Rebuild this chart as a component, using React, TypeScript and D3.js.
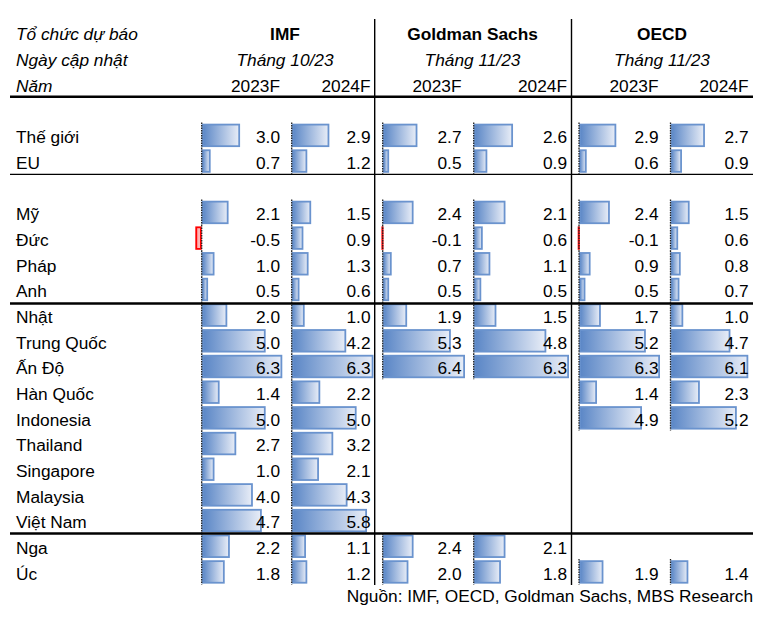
import React from "react";
import * as d3 from "d3";

const countries = ["Thế giới","EU","Mỹ","Đức","Pháp","Anh","Nhật","Trung Quốc","Ấn Độ","Hàn Quốc","Indonesia","Thailand","Singapore","Malaysia","Việt Nam","Nga","Úc"];
const imf2023 = [3.0,0.7,2.1,-0.5,1.0,0.5,2.0,5.0,6.3,1.4,5.0,2.7,1.0,4.0,4.7,2.2,1.8];
const imf2024 = [2.9,1.2,1.5,0.9,1.3,0.6,1.0,4.2,6.3,2.2,5.0,3.2,2.1,4.3,5.8,1.1,1.2];
const gs2023 = [2.7,0.5,2.4,-0.1,0.7,0.5,1.9,5.3,6.4,null,null,null,null,null,null,2.4,2.0];
const gs2024 = [2.6,0.9,2.1,0.6,1.1,0.5,1.5,4.8,6.3,null,null,null,null,null,null,2.1,1.8];
const oecd2023 = [2.9,0.6,2.4,-0.1,0.9,0.5,1.7,5.2,6.3,1.4,4.9,null,null,null,null,null,1.9];
const oecd2024 = [2.7,0.9,1.5,0.6,0.8,0.7,1.0,4.7,6.1,2.3,5.2,null,null,null,null,null,1.4];

const organizations = ["IMF","Goldman Sachs","OECD"];
const updateDates = ["Tháng 10/23","Tháng 11/23","Tháng 11/23"];
const yearLabels = ["2023F","2024F"];
const headerLabels = ["Tổ chức dự báo","Ngày cập nhật","Năm"];
const sourceText = "Nguồn: IMF, OECD, Goldman Sachs, MBS Research";

const W = 777, H = 617;
const FONT = "Arial, 'Liberation Sans', sans-serif";
const FS = 17.3;
const BASE = 20.8;

// row layout
const ROW_H = 25.68;
const ROW3_TOP = 96.7;
const rowTop = (r: number) => ROW3_TOP + (r - 3) * ROW_H;
const countryRow = (i: number) => 4 + i + (i >= 2 ? 1 : 0);

type Col = { values: (number | null)[]; axis: number; end: number; textRight: number };
const columns: Col[] = [
  { values: imf2023, axis: 201.7, end: 282.3, textRight: 280 },
  { values: imf2024, axis: 291.7, end: 373.5, textRight: 370.5 },
  { values: gs2023, axis: 382.7, end: 465, textRight: 461.5 },
  { values: gs2024, axis: 473.7, end: 569, textRight: 567 },
  { values: oecd2023, axis: 579, end: 660, textRight: 658.5 },
  { values: oecd2024, axis: 670.5, end: 748.3, textRight: 748.5 },
];
const groupCenters = [285, 472.5, 662];
const fmt = (v: number) => d3.format(".1f")(v).replace("\u2212", "-");

export default function App() {
  const lines = [
    { y: 96.7, w: 2.5 },
    { y: 174.3, w: 1.3 },
    { y: 303.5, w: 2.5 },
    { y: 533.5, w: 2.5 },
  ];
  return (
    <svg width={W} height={H} style={{ position: "absolute", left: 0, top: 0, background: "#fff" }} fontFamily={FONT}>
      <defs>
        <linearGradient id="pos" x1="0" x2="1" y1="0" y2="0">
          <stop offset="0" stopColor="#5A86C6" />
          <stop offset="1" stopColor="#E8EDF7" />
        </linearGradient>
        <linearGradient id="neg" x1="0" x2="1" y1="0" y2="0">
          <stop offset="0" stopColor="#FF8080" />
          <stop offset="1" stopColor="#FFE8E8" />
        </linearGradient>
      </defs>
      <rect width={W} height={H} fill="#fff" />

      {headerLabels.map((t, i) => (
        <text key={t} x={16} y={rowTop(i) + BASE} fontSize={FS} fontStyle="italic" fill="#000">{t}</text>
      ))}
      {organizations.map((o, i) => (
        <text key={o} x={groupCenters[i]} y={rowTop(0) + BASE} fontSize={FS} fontWeight="bold" textAnchor="middle" fill="#000">{o}</text>
      ))}
      {updateDates.map((d, i) => (
        <text key={i} x={groupCenters[i]} y={rowTop(1) + BASE} fontSize={FS} fontStyle="italic" textAnchor="middle" fill="#000">{d}</text>
      ))}
      {columns.map((c, j) => (
        <text key={j} x={c.textRight} y={rowTop(2) + BASE} fontSize={FS} textAnchor="end" fill="#000">{yearLabels[j % 2]}</text>
      ))}

      {countries.map((c, i) => (
        <text key={c} x={16} y={rowTop(countryRow(i)) + BASE} fontSize={FS} fill="#000">{c}</text>
      ))}

      {columns.map((col, j) => {
        const max = d3.max(col.values.filter((v) => v != null) as number[]) as number;
        const x = d3.scaleLinear().domain([0, max]).range([col.axis, col.end]);
        return (
          <g key={j}>
            {col.values.map((v, i) => {
              if (v == null) return null;
              const top = rowTop(countryRow(i));
              const x0 = Math.min(x(0), x(v));
              const x1 = Math.max(x(0), x(v));
              const neg = v < 0;
              return (
                <g key={i}>
                  <rect x={x0 + 0.9} y={top + 2.2} width={Math.max(x1 - x0 - 1.8, 0.3)} height={21.6}
                    fill={neg ? "url(#neg)" : "url(#pos)"} stroke={neg ? "#FF0000" : "#6A93CE"} strokeWidth={1.8} />
                  <line x1={x(0)} x2={x(0)} y1={top} y2={top + ROW_H} stroke="#222" strokeWidth={1.3} strokeDasharray="1.5 1" />
                  <text x={col.textRight} y={top + BASE} fontSize={FS} textAnchor="end" fill="#000">{fmt(v)}</text>
                </g>
              );
            })}
          </g>
        );
      })}

      {lines.map((l, i) => (
        <line key={i} x1={10} x2={753} y1={l.y} y2={l.y} stroke="#000" strokeWidth={l.w} />
      ))}
      {[374.7, 571.5].map((x, i) => (
        <line key={i} x1={x} x2={x} y1={19} y2={585} stroke="#000" strokeWidth={1.4} />
      ))}

      <text x={753} y={602} fontSize={FS} textAnchor="end" fill="#000">{sourceText}</text>
    </svg>
  );
}
